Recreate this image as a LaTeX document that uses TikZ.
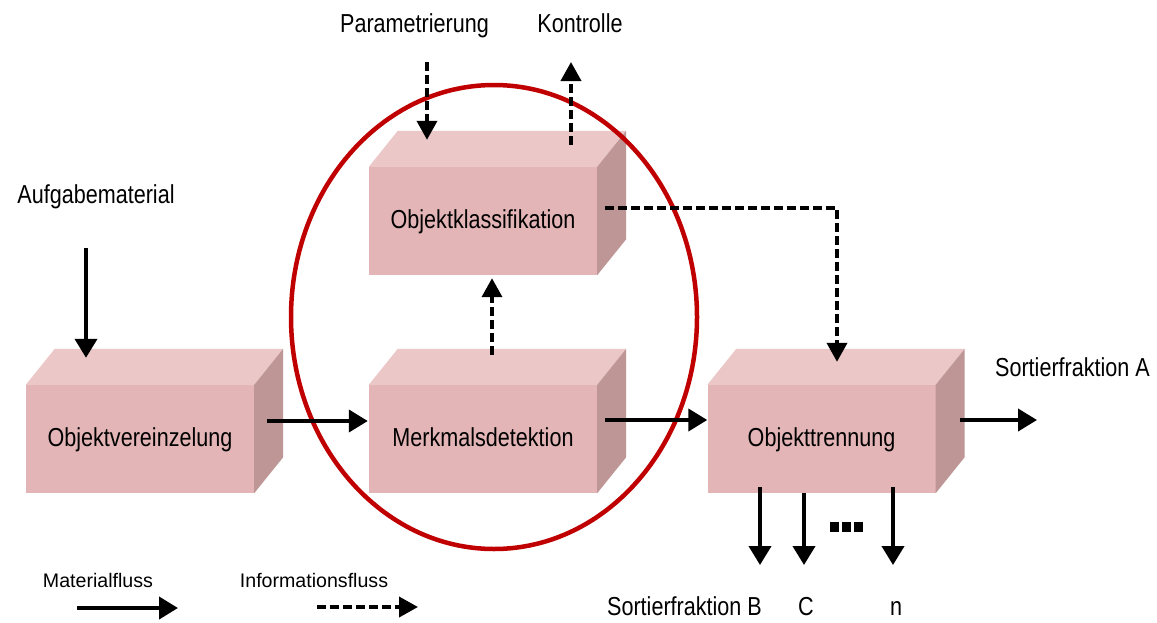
\documentclass[tikz,border=0pt]{standalone}
\usepackage{fontspec}
\setmainfont{Liberation Sans}
\newfontfamily\lab[FakeStretch=0.83]{Liberation Sans}
\usetikzlibrary{arrows.meta,calc}
\definecolor{bfront}{RGB}{228,181,182}
\definecolor{btop}{RGB}{235,199,199}
\definecolor{bside}{RGB}{190,150,150}
\definecolor{ringred}{RGB}{192,0,0}
\tikzset{
  txt/.style={font=\lab\fontsize{26}{30}\selectfont, inner sep=0pt, text=black},
  lbl/.style={txt, anchor=base},
  leglbl/.style={font=\fontsize{19.6}{23}\selectfont, inner sep=0pt, text=black, anchor=base},
  boxfront/.style={fill=bfront, minimum width=228pt, minimum height=108pt,
    inner sep=0pt, txt, text height=20pt, text depth=6pt},
  mat/.style={line width=4pt, -{Triangle[width=22pt,length=19pt]}},
  info/.style={line width=3.8pt, dash pattern=on 8.5pt off 4.5pt,
    -{Triangle[width=20pt,length=19pt]}},
  ring/.style={draw=ringred, line width=4.5pt},
}
\newcommand{\drawcuboid}[1]{%
  \fill[btop] (#1.north west) -- ++(29,-36) -- ($(#1.north east)+(29,-36)$) -- (#1.north east) -- cycle;
  \fill[bside] (#1.north east) -- ++(29,-36) -- ($(#1.south east)+(29,-36)$) -- (#1.south east) -- cycle;}
\begin{document}
\begin{tikzpicture}[x=1pt,y=-1pt]
\fill[white] (0,0) rectangle (1157,622);
\useasboundingbox (0,0) rectangle (1157,622);

% boxes
\node[boxfront] (ov) at (140,439) {Objektvereinzelung};
\node[boxfront] (md) at (483,439) {Merkmalsdetektion};
\node[boxfront] (ok) at (483,221) {Objektklassifikation};
\node[boxfront] (ot) at (821.5,439) {Objekttrennung};
\drawcuboid{ov}
\drawcuboid{md}
\drawcuboid{ok}
\drawcuboid{ot}

% labels
\node[lbl] (param) at (414.5,32) {Parametrierung};
\node[lbl] (kon) at (580,32) {Kontrolle};
\node[lbl] (aufg) at (96,203) {Aufgabematerial};
\node[lbl] (sfa) at (1072.5,376) {Sortierfraktion A};
\node[lbl] (sfb) at (684.5,615) {Sortierfraktion B};
\node[lbl] (sfc) at (806,615) {C};
\node[lbl] (sfn) at (896,615) {n};
\node[leglbl] (mf) at (98,587) {Materialfluss};
\node[leglbl] (infl) at (314,587) {Informationsfluss};

% red ring
\draw[ring] (494,317) ellipse [x radius=203pt, y radius=232pt];

% material flow
\draw[mat] ($(aufg.base)+(-10,45)$) -- ($(ov.north)+(-54,-27)$);
\draw[mat] ($(ov.east)+(13,-18)$) -- ($(md.west)+(-1,-18)$);
\draw[mat] ($(md.east)+(8,-19)$) -- ($(ot.west)+(0,-19)$);
\draw[mat] ($(ot.east)+(24,-19)$) -- ($(sfa.base)+(-35.5,44)$);
\draw[mat] ($(ot.south)+(-61.5,-6)$) -- ($(sfb.base)+(75.5,-50)$);
\draw[mat] ($(ot.south)+(-17.5,0)$) -- ($(sfc.base)+(-2,-50)$);
\draw[mat] ($(ot.south)+(71.5,-6)$) -- ($(sfn.base)+(-3,-50)$);

% information flow
\draw[info] ($(md.north)+(9,-30)$) -- ($(ok.south)+(9,3)$);
\draw[info] ($(ok.east)+(8,-13)$) -| ($(ot.north)+(15.5,-23)$);
\draw[info] ($(param.base)+(12.5,30)$) -- ($(ok.north)+(-56,-27)$);
\draw[info] ($(ok.north)+(88,-22)$) -- ($(kon.base)+(-9,30)$);

% dots
\fill[black] (830,522) rectangle (838.5,532);
\fill[black] (842,522) rectangle (850.5,532);
\fill[black] (854,522) rectangle (862.5,532);

% legend
\draw[mat] ($(mf.base)+(-21,21)$) -- ($(mf.base)+(80,21)$);
\draw[info] ($(infl.base)+(3,20)$) -- ($(infl.base)+(104,20)$);
\end{tikzpicture}
\end{document}
